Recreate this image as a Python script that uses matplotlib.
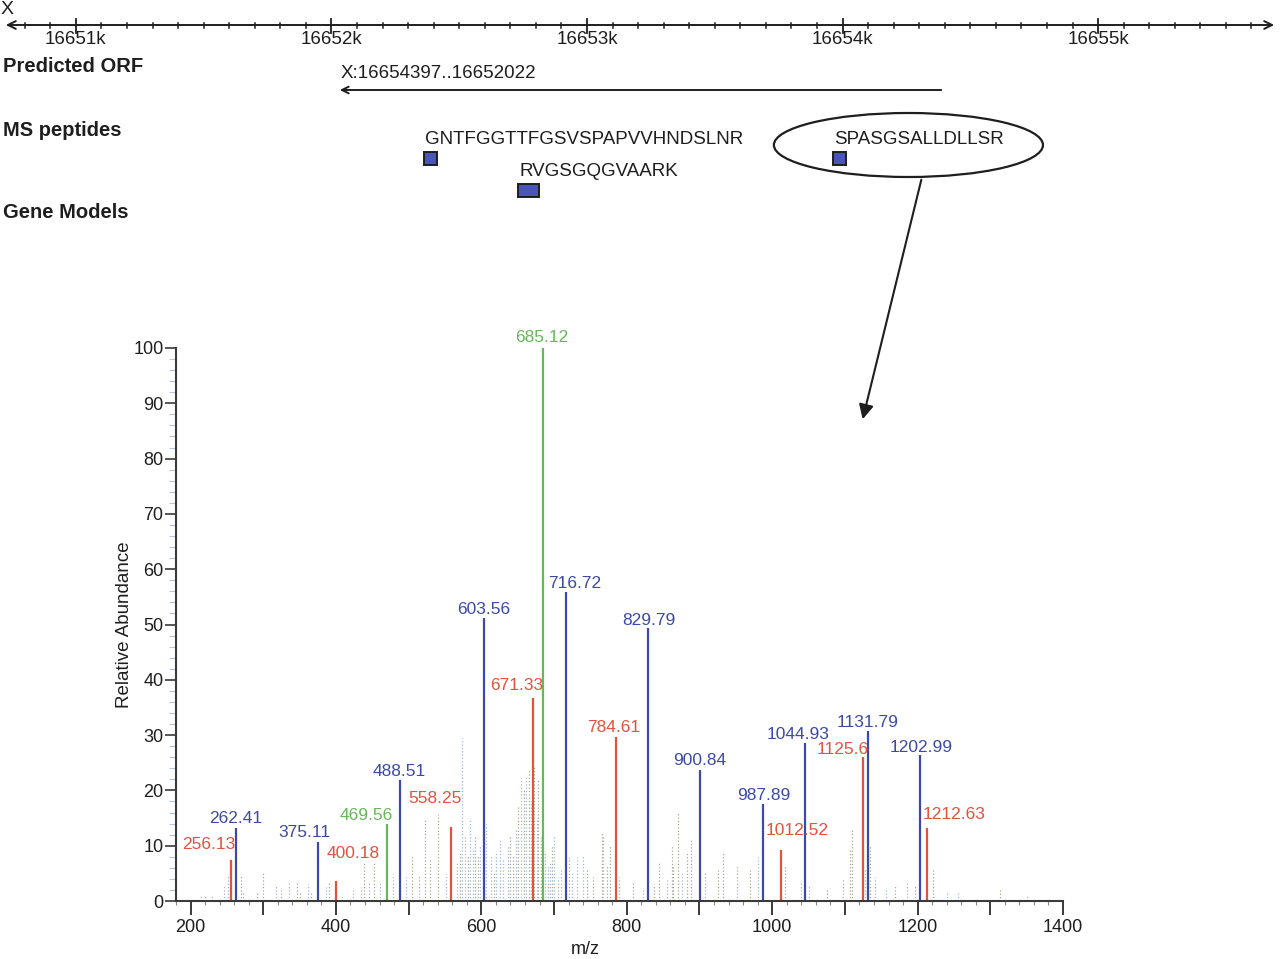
import matplotlib
matplotlib.use("Agg")
import matplotlib.pyplot as plt
from matplotlib.patches import Ellipse, Rectangle, FancyArrowPatch
from matplotlib.ticker import MultipleLocator, FuncFormatter

plt.rcParams['font.family'] = ['Liberation Sans', 'DejaVu Sans']

# genome browser track
chrom = "X"
view_start, view_end = 16650715, 16655700
orf_start, orf_end = 16654397, 16652022
pep_names = ["GNTFGGTTFGSVSPAPVVHNDSLNR", "RVGSGQGVAARK", "SPASGSALLDLLSR"]
pep_start = [16652362, 16652730, 16653963]
pep_end = [16652413, 16652812, 16654014]
pep_row = [0, 1, 0]

# MS/MS spectrum of SPASGSALLDLLSR
blue_mz = [262.41, 375.11, 488.51, 603.56, 716.72, 829.79, 900.84, 987.89, 1044.93, 1131.79, 1202.99]
blue_int = [13.2, 10.7, 21.9, 51.2, 55.9, 49.4, 23.7, 17.5, 28.6, 30.7, 26.4]
red_mz = [256.13, 400.18, 558.25, 671.33, 784.61, 1012.52, 1125.6, 1212.63]
red_int = [7.4, 3.6, 13.4, 36.7, 29.7, 9.2, 26.1, 13.2]
green_mz = [469.56, 685.12]
green_int = [13.9, 100.0]

noise_blue_mz = [214, 230, 246, 252, 272, 317, 335, 361, 387, 409, 424, 434, 445, 461, 479,
                 497, 514, 551, 567, 573, 578, 584, 588, 598, 607, 613, 620, 626, 630, 636,
                 648, 654, 661, 668, 676, 688, 692, 695, 700, 705, 710, 725, 732, 740, 767,
                 789, 822, 856, 876, 908, 952, 980, 1039, 1050, 1098, 1128, 1142, 1156, 1186,
                 1241, 1256, 1351]
noise_blue_int = [1.1, 1.0, 2.9, 4.7, 1.5, 2.9, 3.2, 3.0, 2.5, 1.3, 2.0, 2.5, 3.2, 3.6, 4.8,
                  4.3, 4.6, 4.8, 6.9, 29.5, 12.0, 15.0, 9.3, 10.0, 14.0, 8.3, 9.0, 11.0, 7.8, 10.0,
                  13.0, 22.2, 22.8, 18.0, 15.0, 9.0, 6.5, 7.0, 12.0, 4.4, 6.0, 5.0, 8.0, 8.3, 12.0,
                  4.4, 2.0, 3.8, 5.0, 5.0, 6.6, 8.0, 3.3, 2.7, 4.0, 5.6, 4.3, 2.2, 3.3,
                  1.8, 1.8, 0.9]
noise_grey_mz = [220, 269, 292, 299, 324, 346, 351, 366, 390, 439, 452, 505, 522, 530, 541,
                 571, 581, 591, 595, 603, 617, 640, 644, 651, 658, 665, 672, 678, 682, 697,
                 720, 745, 754, 766, 773, 777, 808, 837, 845, 862, 864, 870, 883, 889, 925,
                 933, 970, 1018, 1076, 1107, 1110, 1132, 1135, 1169, 1197, 1221, 1314]
noise_grey_int = [1.0, 4.7, 1.7, 5.0, 2.0, 3.2, 1.7, 1.7, 3.2, 7.1, 6.9, 8.3, 14.6, 7.8, 15.7,
                  9.0, 8.3, 12.0, 8.3, 7.0, 5.5, 12.0, 8.3, 17.0, 20.0, 23.7, 24.3, 22.0, 11.6, 10.0,
                  8.0, 6.0, 4.3, 12.3, 6.5, 10.2, 3.2, 3.0, 7.0, 10.0, 6.5, 16.0, 8.9, 11.0, 5.6,
                  8.9, 5.6, 6.6, 2.4, 9.2, 13.0, 8.3, 10.0, 2.7, 2.7, 6.0, 2.1]

BLUE = '#3b4aa8'
RED = '#e2533c'
GREEN = '#66b85a'
DARK = '#1e1e1e'

fig = plt.figure(figsize=(12.8, 9.59), dpi=100)

# ---------- top: browser track (y in pixels from the top) ----------
top = fig.add_axes([0, 1 - 260 / 959, 1, 260 / 959])
top.set_xlim(16650703, 16655712)
top.set_ylim(260, 0)
top.axis('off')

top.annotate('', xy=(view_end, 25), xytext=(view_start, 25),
             arrowprops=dict(arrowstyle='<->', color=DARK, lw=1.4, mutation_scale=14))
for pos in range(16650800, 16655700, 100):
    if pos % 1000 == 0:
        top.plot([pos, pos], [19, 33], color=DARK, lw=1.3)
        top.text(pos, 39, f"{pos // 1000}k", ha='center', va='center', fontsize=13.5, color=DARK)
    else:
        top.plot([pos, pos], [22.5, 28], color=DARK, lw=1.1)

top.text(view_start - 10, 9, chrom, ha='left', va='center', fontsize=14, color=DARK)
for lab, yy in [("Predicted ORF", 67), ("MS peptides", 130), ("Gene Models", 213)]:
    top.text(16650715, yy, lab, ha='left', va='center', fontsize=14.5,
             fontweight='bold', color=DARK)

top.annotate('', xy=(orf_end, 90), xytext=(orf_start, 90),
             arrowprops=dict(arrowstyle='->', color=DARK, lw=1.4, mutation_scale=12))
top.text(orf_end + 12, 73, f"{chrom}:{orf_start}..{orf_end}", ha='left', va='center',
         fontsize=13.5, color=DARK)

for name, s, e, r in zip(pep_names, pep_start, pep_end, pep_row):
    y0 = 152 + r * 32
    top.add_patch(Rectangle((s, y0), e - s, 12.5, facecolor='#4a55b8',
                            edgecolor=DARK, lw=1.4))
    top.text(s + 4, y0 - 12, name, ha='left', va='center', fontsize=13.5, color=DARK)

top.add_patch(Ellipse((16654258, 145), 1053, 64, fill=False, edgecolor=DARK, lw=1.6))

# arrow from the circled peptide down to its spectrum
fig.patches.append(FancyArrowPatch(
    (922, 959 - 177), (862, 959 - 422), transform=None, arrowstyle='-|>',
    mutation_scale=22, color=DARK, lw=1.5, figure=fig))

# ---------- bottom: spectrum ----------
ax = fig.add_axes([176 / 1280, 58 / 959, 887 / 1280, 553 / 959])
ax.set_xlim(180, 1400)
ax.set_ylim(0, 100)

ax.vlines(noise_blue_mz, 0, noise_blue_int, colors='#9fb6dd', lw=0.9, linestyles='dotted')
ax.vlines(noise_grey_mz, 0, noise_grey_int, colors='#a4aa8c', lw=0.9, linestyles='dotted')
ax.vlines(blue_mz, 0, blue_int, colors=BLUE, lw=1.6)
ax.vlines(red_mz, 0, red_int, colors=RED, lw=1.6)
ax.vlines(green_mz, 0, green_int, colors=GREEN, lw=1.6)

# label offsets in pixels (dx, dy) from the peak top
label_shift = {256.13: (-23, 11), 262.41: (0, 5), 375.11: (-13, 5), 400.18: (17, 23),
               469.56: (-20, 4), 488.51: (-1, 4), 558.25: (-16, 24), 603.56: (0, 4),
               671.33: (-17, 8), 685.12: (-1, 6), 716.72: (8, 4), 784.61: (-2, 5),
               829.79: (0, 3), 900.84: (0, 5), 987.89: (0, 4), 1012.52: (16, 15),
               1044.93: (-7, 4), 1125.6: (-21, 3), 1131.79: (0, 4), 1202.99: (1, 3),
               1212.63: (27, 9)}
for mzs, ints, col in [(blue_mz, blue_int, BLUE), (red_mz, red_int, RED),
                       (green_mz, green_int, GREEN)]:
    for m, v in zip(mzs, ints):
        dx, dy = label_shift[m]
        ax.annotate(f"{m:g}", (m, v), xytext=(dx, dy), textcoords='offset pixels',
                    ha='center', va='baseline', fontsize=12.5, color=col)

for side in ['top', 'right']:
    ax.spines[side].set_visible(False)
for side in ['left', 'bottom']:
    ax.spines[side].set_color('#3a3a3a')
    ax.spines[side].set_linewidth(1.5)

ax.xaxis.set_major_locator(MultipleLocator(100))
ax.xaxis.set_minor_locator(MultipleLocator(20))
ax.xaxis.set_major_formatter(FuncFormatter(lambda v, p: f"{v:.0f}" if v % 200 == 0 else ""))
ax.yaxis.set_major_locator(MultipleLocator(10))
ax.yaxis.set_minor_locator(MultipleLocator(2))
ax.tick_params(axis='x', which='major', length=10, width=1.4, color='#3a3a3a',
               labelsize=13, labelcolor=DARK, pad=3)
ax.tick_params(axis='x', which='minor', length=3, width=0.8, color='#888888')
ax.tick_params(axis='y', which='major', length=8, width=1.2, color='#3a3a3a',
               labelsize=13, labelcolor=DARK, pad=1)
ax.tick_params(axis='y', which='minor', length=5, width=0.8, color='#b0c8e4')

ax.set_ylabel('Relative Abundance', fontsize=13.5, color=DARK, labelpad=0)
ax.text(0.461, -0.087, 'm/z', transform=ax.transAxes, ha='center', va='center',
        fontsize=13, color=DARK)

fig.savefig('out.png', dpi=100)
